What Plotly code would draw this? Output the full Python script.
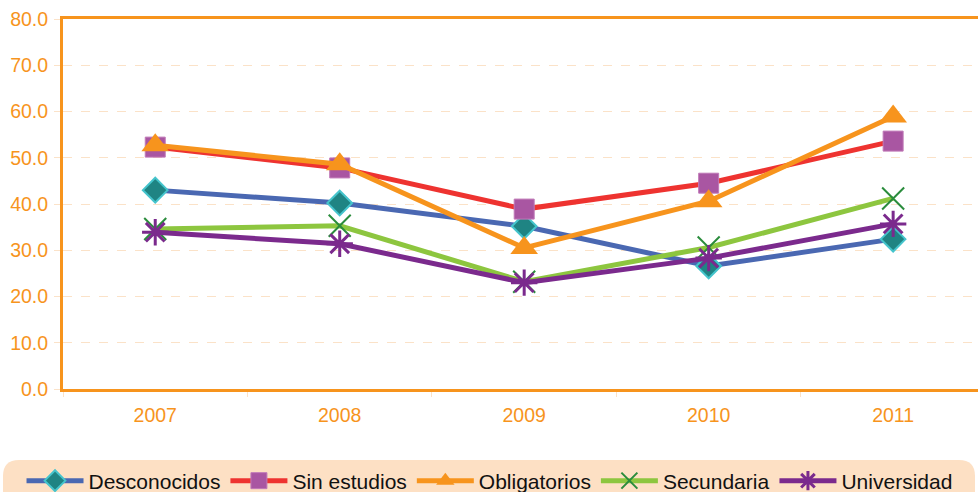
import plotly.graph_objects as go

years = ["2007", "2008", "2009", "2010", "2011"]
desconocidos = [43.0, 40.2, 35.2, 26.6, 32.4]
sin_estudios = [52.3, 47.8, 38.9, 44.5, 53.6]
obligatorios = [52.7, 48.6, 30.5, 40.6, 58.9]
secundaria = [34.6, 35.3, 23.2, 30.6, 41.2]
universidad = [33.9, 31.4, 23.0, 28.3, 35.7]
y_ticks = [0, 10, 20, 30, 40, 50, 60, 70, 80]

W, H = 978, 492
ORANGE = "#f7941d"
GRID = "#fbe2c8"
LEGEND_BG = "#fde0c4"

series = [
    ("Desconocidos", desconocidos, "#4a68b2",
     dict(symbol="diamond", size=19, color="#1f8483", line=dict(color="#45c4cc", width=2))),
    ("Sin estudios", sin_estudios, "#ee3330",
     dict(symbol="square", size=20, color="#a956a2", line=dict(color="#c07ab8", width=1))),
    ("Obligatorios", obligatorios, ORANGE,
     dict(symbol="triangle-up", size=24, color=ORANGE, line=dict(width=0))),
    ("Secundaria", secundaria, "#8dc63f",
     dict(symbol="x-thin-open", size=22, color="#2a8c3c", line=dict(color="#2a8c3c", width=2))),
    ("Universidad", universidad, "#7b2a8d",
     dict(symbol="asterisk-open", size=22, color="#7b2a8d", line=dict(color="#7b2a8d", width=3))),
]

fig = go.Figure()
for name, vals, lc, mk in series:
    fig.add_trace(go.Scatter(
        x=years, y=vals, name=name, mode="lines+markers",
        line=dict(color=lc, width=5), marker=mk,
    ))

# rounded band behind the legend
x0, x1, y0, y1, r = 3 / W, 975 / W, -20 / H, (H - 460) / H, 16
rx, ry = r / W, r / H
legend_band = (
    f"M {x0 + rx},{y1} L {x1 - rx},{y1} Q {x1},{y1} {x1},{y1 - ry} "
    f"L {x1},{y0} L {x0},{y0} L {x0},{y1 - ry} Q {x0},{y1} {x0 + rx},{y1} Z"
)

fig.update_layout(
    width=W, height=H,
    margin=dict(l=0, r=0, t=0, b=0, autoexpand=False),
    paper_bgcolor="white", plot_bgcolor="white",
    font=dict(family="Liberation Sans, Arial, sans-serif", size=19.5, color=ORANGE),
    showlegend=True,
    legend=dict(
        orientation="h", x=0.022, xanchor="left", y=(H - 481) / H, yanchor="middle",
        bgcolor="rgba(0,0,0,0)", font=dict(color="#111111", size=21),
        itemwidth=57, tracegroupgap=0,
    ),
    shapes=[dict(type="path", xref="paper", yref="paper", path=legend_band,
                 fillcolor=LEGEND_BG, line=dict(width=0), layer="below")],
)
fig.update_xaxes(
    type="category", range=[-0.5, 4.46], domain=[63 / W, 1],
    showline=True, linecolor=ORANGE, linewidth=3, mirror=True,
    ticks="outside", tickson="boundaries", ticklen=5, tickcolor=GRID,
    ticklabelstandoff=7,
    showgrid=False, tickfont=dict(color=ORANGE, size=19.5),
)
fig.update_yaxes(
    range=[0, 80], domain=[(H - 389) / H, (H - 19) / H],
    tickvals=y_ticks, ticktext=[f"{v:.1f}" for v in y_ticks],
    showline=True, linecolor=ORANGE, linewidth=3,
    ticks="outside", ticklen=6, tickcolor=GRID,
    ticklabelstandoff=2,
    showgrid=True, gridcolor=GRID, griddash="dash", gridwidth=1,
    zeroline=False, tickfont=dict(color=ORANGE, size=19.5),
)

fig.write_html("out.html")
